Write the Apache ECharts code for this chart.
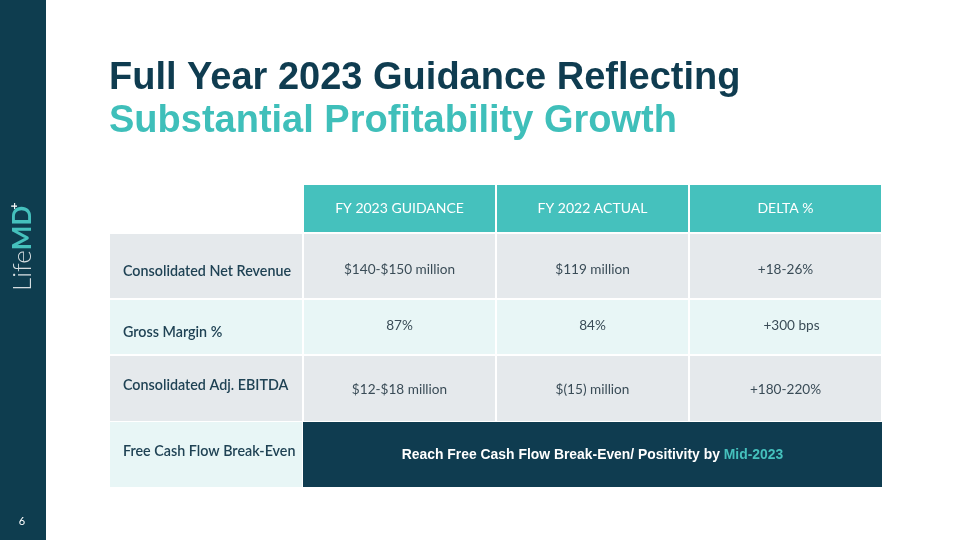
<!DOCTYPE html>
<html>
<head>
<meta charset="utf-8">
<script src="https://cdn.jsdelivr.net/npm/echarts@6/dist/echarts.min.js"></script>
<style>html,body{margin:0;padding:0;background:#fff}#c{width:960px;height:540px}</style>
</head>
<body>
<div id="c"></div>
<script>
// ---- data ----
const titleLine1 = 'Full Year 2023 Guidance Reflecting';
const titleLine2 = 'Substantial Profitability Growth';
const columns = ['', 'FY 2023 GUIDANCE', 'FY 2022 ACTUAL', 'DELTA %'];
const metrics = ['Consolidated Net Revenue', 'Gross Margin %', 'Consolidated Adj. EBITDA', 'Free Cash Flow Break-Even'];
const fy2023Guidance = ['$140-$150 million', '87%', '$12-$18 million'];
const fy2022Actual = ['$119 million', '84%', '$(15) million'];
const deltaPct = ['+18-26%', '+300 bps', '+180-220%'];
const fcfNote = 'Reach Free Cash Flow Break-Even/ Positivity by ';
const fcfTarget = 'Mid-2023';
const pageNumber = '6';

// ---- layout (not data) ----
const rowSpans = [[0, 47], [49, 113], [115, 169], [171, 236], [237, 302]]; // header + 4 rows
const labelDy = [0, 5, 5, -3.5, -3];
const valueDy = [0, 3.5, -1, 1.5, 1];
const valueDx = [[0,0,0],[0,0,0],[0,0,6],[0,0,0],[0,0,0]];
const C = {
  navy: '#0f3c50', side: '#0e3d4f', teal: '#45c1bd', gray: '#e5e9ec', mint: '#e8f6f6',
  label: '#1f4254', value: '#3a4c57'
};
const bodyFont = 'Lato, "Noto Sans", sans-serif';
const titleFont = '"Liberation Sans", Arial, sans-serif';

// build cells from the data arrays
const cells = [];
for (let c = 1; c < columns.length; c++) cells.push({ value: [c, 0], kind: 'head', text: columns[c] });
const colVals = [fy2023Guidance, fy2022Actual, deltaPct];
metrics.forEach((m, r) => {
  cells.push({ value: [0, r + 1], kind: 'label', text: m });
  if (r < fy2023Guidance.length) {
    colVals.forEach((arr, k) => cells.push({ value: [k + 1, r + 1], kind: 'value', text: arr[r] }));
  } else {
    cells.push({ value: [2, r + 1], kind: 'merged', text: fcfNote, accent: fcfTarget });
  }
});

function rowFill(row) { return row % 2 === 1 ? C.gray : C.mint; }

function renderItem(params, api) {
  const cell = cells[params.dataIndex];
  const col = api.value(0), row = api.value(1);
  const span = rowSpans[row];
  const yTop = api.coord([col, span[0]])[1];
  const yBot = api.coord([col, span[1]])[1];
  const bw = api.size([1, 0])[0];
  let cx = api.coord([col, 0])[0];
  let x0 = cx - bw / 2 + 1, x1 = cx + bw / 2 - 1;
  let fill, textEl;
  const cy = (yTop + yBot) / 2;
  if (cell.kind === 'head') {
    fill = C.teal;
    textEl = { type: 'text', style: { text: cell.text, x: cx, y: cy, align: 'center', verticalAlign: 'middle',
      fill: '#fff', font: '14px ' + bodyFont } };
  } else if (cell.kind === 'label') {
    fill = rowFill(row);
    x0 = cx - bw / 2;
    textEl = { type: 'text', style: { text: cell.text, x: x0 + 13, y: cy + labelDy[row], align: 'left', verticalAlign: 'middle',
      fill: C.label, font: '600 14.3px ' + bodyFont } };
  } else if (cell.kind === 'value') {
    fill = rowFill(row);
    textEl = { type: 'text', style: { text: cell.text, x: cx + valueDx[row][col - 1], y: cy + valueDy[row], align: 'center', verticalAlign: 'middle',
      fill: C.value, font: '13.6px ' + bodyFont } };
  } else {
    fill = C.navy;
    x0 = cx - 1.5 * bw;
    x1 = cx + 1.5 * bw;
    textEl = { type: 'text', style: { text: '{a|' + cell.text + '}{b|' + cell.accent + '}', x: cx, y: cy + valueDy[row],
      align: 'center', verticalAlign: 'middle',
      rich: { a: { fill: '#fff', fontWeight: 'bold', fontSize: 13.9, fontFamily: titleFont },
              b: { fill: C.teal, fontWeight: 'bold', fontSize: 13.9, fontFamily: titleFont } } } };
  }
  return { type: 'group', children: [
    { type: 'rect', shape: { x: x0, y: yTop, width: x1 - x0, height: yBot - yTop }, style: { fill: fill } },
    textEl
  ] };
}

const chart = echarts.init(document.getElementById('c'), null, { renderer: 'canvas' });
chart.setOption({
  backgroundColor: '#fff',
  animation: false,
  grid: { left: 110, right: 78, top: 185, bottom: 53 },
  xAxis: { type: 'category', data: columns, show: false, boundaryGap: true },
  yAxis: { type: 'value', min: 0, max: 302, inverse: true, show: false },
  series: [{ type: 'custom', renderItem: renderItem, data: cells, silent: true }],
  graphic: [
    { type: 'rect', shape: { x: 0, y: 0, width: 46, height: 540 }, style: { fill: C.side }, z: 0 },
    { type: 'text', left: 109, top: 60, style: { text: titleLine1, fill: C.navy,
      font: 'bold 38px ' + titleFont } },
    { type: 'text', left: 109, top: 103, style: { text: titleLine2, fill: '#3fbfba',
      font: 'bold 38px ' + titleFont } },
    { type: 'group', x: 23, y: 291, rotation: Math.PI / 2, children: [
      { type: 'text', x: 0, y: 0, style: { text: '{a|Life}{b|MD}', align: 'left', verticalAlign: 'middle',
        rich: { a: { fill: '#d5dde0', fontSize: 26, fontWeight: 300, fontFamily: bodyFont },
                b: { fill: '#45c1bd', fontSize: 26, fontWeight: 'bold', fontFamily: bodyFont } } } },
      { type: 'text', x: 85, y: -9, style: { text: '+', fill: '#fff', font: 'bold 12px ' + bodyFont, align: 'center', verticalAlign: 'middle' } }
    ] },
    { type: 'text', x: 22, y: 521, style: { text: pageNumber, fill: '#fff', font: '11px ' + bodyFont, align: 'center', verticalAlign: 'middle' } }
  ]
});
</script>
</body>
</html>
